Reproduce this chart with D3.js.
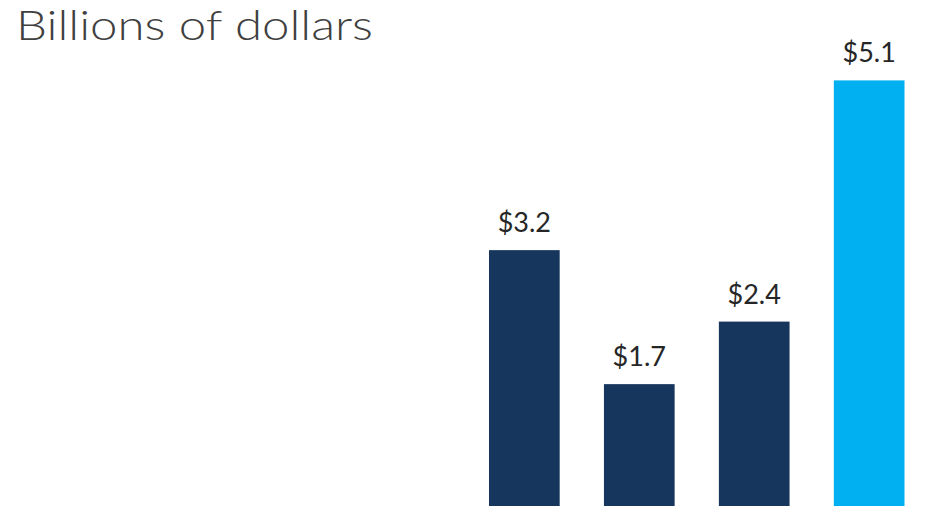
<!DOCTYPE html>
<html>
<head>
<meta charset="utf-8">
<script src="https://cdn.jsdelivr.net/npm/d3@7"></script>
<style>
  html, body { margin: 0; padding: 0; background: #fff; overflow: hidden; }
  svg { display: block; }
</style>
</head>
<body>
<svg id="chart" width="931" height="506"></svg>
<script>
const categories = ["Bar 1", "Bar 2", "Bar 3", "Bar 4"];
const values = [3.2, 1.7, 2.4, 5.1];
const labels = ["$3.2", "$1.7", "$2.4", "$5.1"];
const title = "Billions of dollars";

const svg = d3.select("#chart");
const x = d3.scaleBand().domain(categories).range([489, 904.5]).paddingInner(0.385).paddingOuter(0);
const y = d3.scaleLinear().domain([0, 6]).range([536, 0]);
const color = (d, i) => i === categories.length - 1 ? "#00B0F0" : "#17365D";

svg.append("text")
  .attr("x", 16).attr("y", 40)
  .attr("font-family", "Lato, 'Open Sans', sans-serif")
  .attr("font-weight", 300)
  .attr("font-size", 41)
  .attr("fill", "#404040")
  .attr("textLength", 357).attr("lengthAdjust", "spacingAndGlyphs")
  .text(title);

svg.selectAll("rect.bar").data(values).join("rect")
  .attr("class", "bar")
  .attr("x", (d, i) => x(categories[i]))
  .attr("y", d => y(d))
  .attr("width", x.bandwidth())
  .attr("height", d => y(0) - y(d))
  .attr("fill", color);

svg.selectAll("text.lbl").data(values).join("text")
  .attr("class", "lbl")
  .attr("x", (d, i) => x(categories[i]) + x.bandwidth() / 2)
  .attr("y", d => y(d) - 18)
  .attr("text-anchor", "middle")
  .attr("font-family", "Lato, 'Open Sans', sans-serif")
  .attr("font-size", 27)
  .attr("fill", "#262626")
  .text((d, i) => labels[i]);
</script>
</body>
</html>
